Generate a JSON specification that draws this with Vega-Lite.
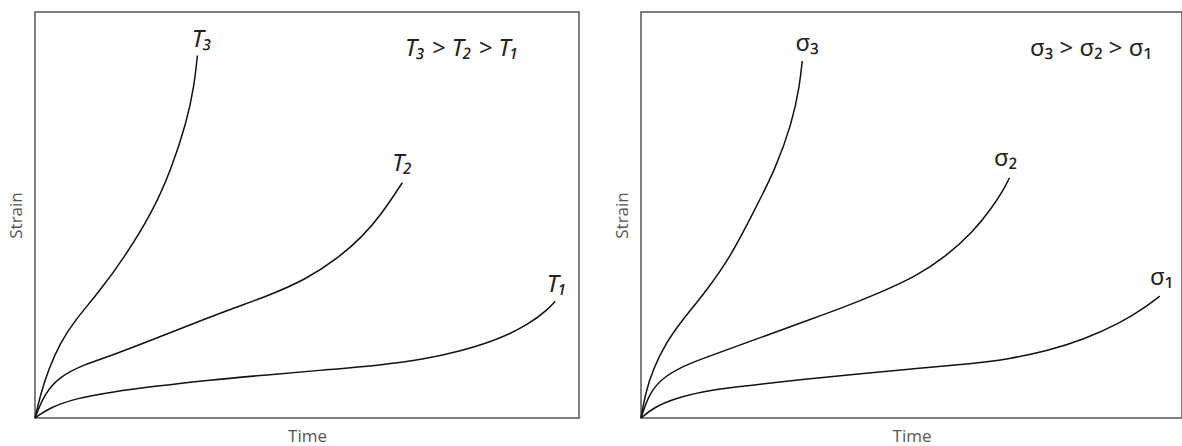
{
  "$schema": "https://vega.github.io/schema/vega-lite/v6.json",
  "background": "white",
  "padding": {"left": 6, "top": 11, "right": 0, "bottom": 0},
  "spacing": 32,
  "config": {
    "view": {"stroke": "#555555", "strokeWidth": 1.5},
    "axis": {
      "domain": false, "ticks": false, "labels": false, "grid": false,
      "titleFont": "Open Sans", "titleFontSize": 17, "titleFontWeight": "normal", "titleColor": "#555555"
    },
    "text": {"font": "Noto Sans", "color": "#222222"}
  },
  "datasets": {
    "curves": [
      {"panel": "T", "series": "3", "t": 0, "s": 0},
      {"panel": "T", "series": "3", "t": 1.07, "s": 6.08},
      {"panel": "T", "series": "3", "t": 2.46, "s": 11.85},
      {"panel": "T", "series": "3", "t": 4.6, "s": 18.45},
      {"panel": "T", "series": "3", "t": 7.41, "s": 24.21},
      {"panel": "T", "series": "3", "t": 11.64, "s": 30.79},
      {"panel": "T", "series": "3", "t": 16.58, "s": 39.85},
      {"panel": "T", "series": "3", "t": 21.53, "s": 50.57},
      {"panel": "T", "series": "3", "t": 25.06, "s": 61.28},
      {"panel": "T", "series": "3", "t": 27.87, "s": 72.81},
      {"panel": "T", "series": "3", "t": 29.28, "s": 81.87},
      {"panel": "T", "series": "3", "t": 29.85, "s": 89.29},
      {"panel": "T", "series": "2", "t": 0, "s": 0},
      {"panel": "T", "series": "2", "t": 1.76, "s": 6.08},
      {"panel": "T", "series": "2", "t": 4.6, "s": 10.2},
      {"panel": "T", "series": "2", "t": 8.82, "s": 13.08},
      {"panel": "T", "series": "2", "t": 14.47, "s": 15.57},
      {"panel": "T", "series": "2", "t": 21.53, "s": 19.26},
      {"panel": "T", "series": "2", "t": 28.58, "s": 22.98},
      {"panel": "T", "series": "2", "t": 35.64, "s": 26.67},
      {"panel": "T", "series": "2", "t": 42.68, "s": 29.98},
      {"panel": "T", "series": "2", "t": 49.74, "s": 34.09},
      {"panel": "T", "series": "2", "t": 55.39, "s": 39.04},
      {"panel": "T", "series": "2", "t": 60.33, "s": 44.8},
      {"panel": "T", "series": "2", "t": 63.86, "s": 50.57},
      {"panel": "T", "series": "2", "t": 66.32, "s": 55.52},
      {"panel": "T", "series": "2", "t": 67.54, "s": 57.98},
      {"panel": "T", "series": "1", "t": 0, "s": 0},
      {"panel": "T", "series": "1", "t": 2.46, "s": 2.39},
      {"panel": "T", "series": "1", "t": 7.41, "s": 4.85},
      {"panel": "T", "series": "1", "t": 14.47, "s": 6.5},
      {"panel": "T", "series": "1", "t": 21.53, "s": 7.73},
      {"panel": "T", "series": "1", "t": 32.11, "s": 9.38},
      {"panel": "T", "series": "1", "t": 42.68, "s": 10.62},
      {"panel": "T", "series": "1", "t": 53.27, "s": 11.85},
      {"panel": "T", "series": "1", "t": 63.86, "s": 13.08},
      {"panel": "T", "series": "1", "t": 70.92, "s": 14.33},
      {"panel": "T", "series": "1", "t": 77.98, "s": 16.38},
      {"panel": "T", "series": "1", "t": 85.04, "s": 19.26},
      {"panel": "T", "series": "1", "t": 90.68, "s": 22.98},
      {"panel": "T", "series": "1", "t": 94.21, "s": 26.67},
      {"panel": "T", "series": "1", "t": 95.63, "s": 28.74},
      {"panel": "S", "series": "3", "t": 0, "s": 0},
      {"panel": "S", "series": "3", "t": 0.83, "s": 6.18},
      {"panel": "S", "series": "3", "t": 2.2, "s": 11.92},
      {"panel": "S", "series": "3", "t": 4.6, "s": 18.5},
      {"panel": "S", "series": "3", "t": 7.69, "s": 24.26},
      {"panel": "S", "series": "3", "t": 11.81, "s": 30.81},
      {"panel": "S", "series": "3", "t": 16.62, "s": 39.85},
      {"panel": "S", "series": "3", "t": 20.72, "s": 50.54},
      {"panel": "S", "series": "3", "t": 24.84, "s": 61.23},
      {"panel": "S", "series": "3", "t": 27.93, "s": 72.73},
      {"panel": "S", "series": "3", "t": 29.32, "s": 81.77},
      {"panel": "S", "series": "3", "t": 29.8, "s": 87.93},
      {"panel": "S", "series": "2", "t": 0, "s": 0},
      {"panel": "S", "series": "2", "t": 1.52, "s": 6.18},
      {"panel": "S", "series": "2", "t": 4.25, "s": 10.3},
      {"panel": "S", "series": "2", "t": 9.06, "s": 13.57},
      {"panel": "S", "series": "2", "t": 15.23, "s": 16.45},
      {"panel": "S", "series": "2", "t": 22.79, "s": 20.15},
      {"panel": "S", "series": "2", "t": 30.33, "s": 23.84},
      {"panel": "S", "series": "2", "t": 37.21, "s": 27.12},
      {"panel": "S", "series": "2", "t": 44.07, "s": 30.81},
      {"panel": "S", "series": "2", "t": 50.92, "s": 34.93},
      {"panel": "S", "series": "2", "t": 56.41, "s": 39.85},
      {"panel": "S", "series": "2", "t": 61.22, "s": 45.62},
      {"panel": "S", "series": "2", "t": 64.66, "s": 51.35},
      {"panel": "S", "series": "2", "t": 67.06, "s": 56.28},
      {"panel": "S", "series": "2", "t": 68.1, "s": 59.16},
      {"panel": "S", "series": "1", "t": 0, "s": 0},
      {"panel": "S", "series": "1", "t": 2.2, "s": 2.46},
      {"panel": "S", "series": "1", "t": 6.32, "s": 4.93},
      {"panel": "S", "series": "1", "t": 13.18, "s": 7.0},
      {"panel": "S", "series": "1", "t": 20.04, "s": 7.98},
      {"panel": "S", "series": "1", "t": 30.33, "s": 9.63},
      {"panel": "S", "series": "1", "t": 40.63, "s": 10.94},
      {"panel": "S", "series": "1", "t": 50.92, "s": 12.17},
      {"panel": "S", "series": "1", "t": 61.22, "s": 13.4},
      {"panel": "S", "series": "1", "t": 68.1, "s": 14.56},
      {"panel": "S", "series": "1", "t": 74.95, "s": 16.45},
      {"panel": "S", "series": "1", "t": 81.81, "s": 19.31},
      {"panel": "S", "series": "1", "t": 88.69, "s": 23.42},
      {"panel": "S", "series": "1", "t": 93.49, "s": 27.54},
      {"panel": "S", "series": "1", "t": 95.88, "s": 30.0}
    ],
    "labels": [
      {"panel": "T", "label": "T₃", "t": 30.7, "s": 93.0},
      {"panel": "T", "label": "T₂", "t": 67.54, "s": 62.5},
      {"panel": "T", "label": "T₁", "t": 95.96, "s": 32.86},
      {"panel": "T", "label": "T₃ > T₂ > T₁", "t": 78.5, "s": 90.94},
      {"panel": "S", "label": "σ₃", "t": 30.68, "s": 92.02},
      {"panel": "S", "label": "σ₂", "t": 67.39, "s": 63.69},
      {"panel": "S", "label": "σ₁", "t": 96.23, "s": 34.53},
      {"panel": "S", "label": "σ₃ > σ₂ > σ₁", "t": 83.18, "s": 90.79}
    ]
  },
  "hconcat": [
    {
      "width": 544,
      "height": 406,
      "layer": [
        {
          "data": {"name": "curves"},
          "transform": [{"filter": "datum.panel === 'T'"}],
          "mark": {"type": "line", "interpolate": "basis", "color": "#111111", "strokeWidth": 1.5},
          "encoding": {
            "x": {"field": "t", "type": "quantitative", "scale": {"domain": [0, 100], "nice": false}, "axis": {"title": "Time", "titlePadding": 10}},
            "y": {"field": "s", "type": "quantitative", "scale": {"domain": [0, 100], "nice": false}, "axis": {"title": "Strain", "titlePadding": 10}},
            "detail": {"field": "series"}
          }
        },
        {
          "data": {"name": "labels"},
          "transform": [{"filter": "datum.panel === 'T'"}],
          "mark": {"type": "text", "fontSize": 24, "fontStyle": "italic", "baseline": "middle", "align": "center"},
          "encoding": {
            "x": {"field": "t", "type": "quantitative"},
            "y": {"field": "s", "type": "quantitative"},
            "text": {"field": "label"}
          }
        }
      ]
    },
    {
      "width": 541,
      "height": 406,
      "layer": [
        {
          "data": {"name": "curves"},
          "transform": [{"filter": "datum.panel === 'S'"}],
          "mark": {"type": "line", "interpolate": "basis", "color": "#111111", "strokeWidth": 1.5},
          "encoding": {
            "x": {"field": "t", "type": "quantitative", "scale": {"domain": [0, 100], "nice": false}, "axis": {"title": "Time", "titlePadding": 10}},
            "y": {"field": "s", "type": "quantitative", "scale": {"domain": [0, 100], "nice": false}, "axis": {"title": "Strain", "titlePadding": 10}},
            "detail": {"field": "series"}
          }
        },
        {
          "data": {"name": "labels"},
          "transform": [{"filter": "datum.panel === 'S'"}],
          "mark": {"type": "text", "fontSize": 24, "baseline": "middle", "align": "center"},
          "encoding": {
            "x": {"field": "t", "type": "quantitative"},
            "y": {"field": "s", "type": "quantitative"},
            "text": {"field": "label"}
          }
        }
      ]
    }
  ]
}
